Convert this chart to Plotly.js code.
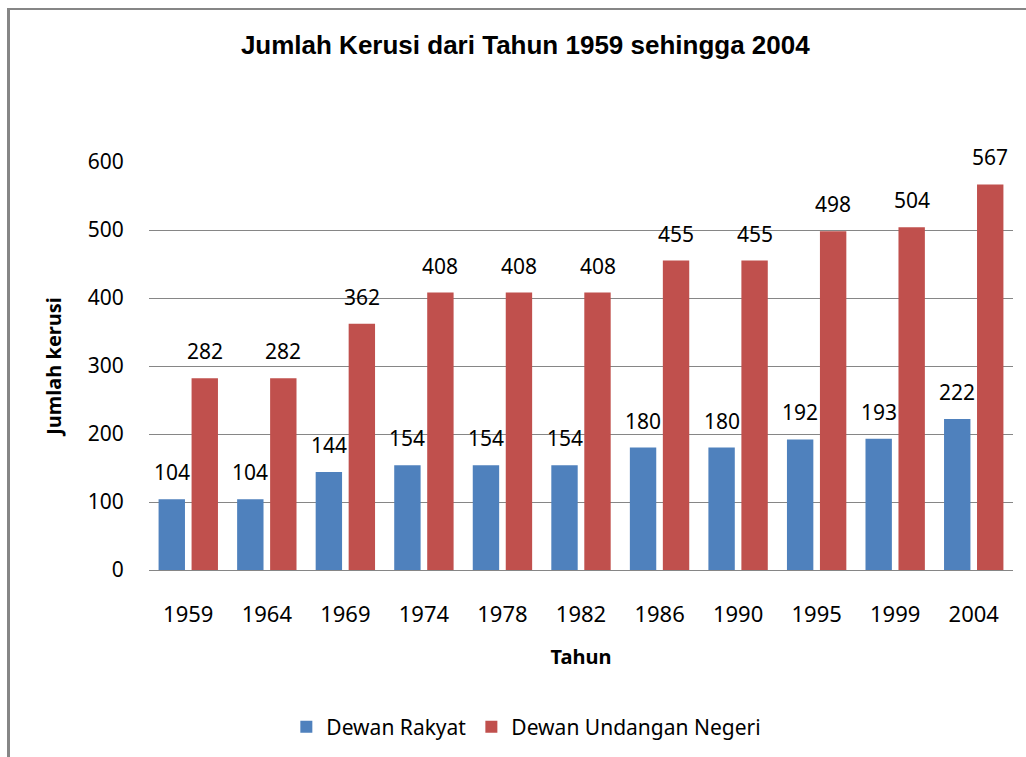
<!DOCTYPE html>
<html>
<head>
<meta charset="utf-8">
<script src="https://cdn.plot.ly/plotly-3.0.1.min.js"></script>
<style>
html,body{margin:0;padding:0;background:#fff;}
#chart{width:1026px;height:757px;}
</style>
</head>
<body>
<div id="chart"></div>
<script>
const years = ["1959","1964","1969","1974","1978","1982","1986","1990","1995","1999","2004"];
const dewanRakyat = [104,104,144,154,154,154,180,180,192,193,222];
const dewanUndanganNegeri = [282,282,362,408,408,408,455,455,498,504,567];
const seriesNames = ["Dewan Rakyat","Dewan Undangan Negeri"];
const yTicks = [0,100,200,300,400,500,600];

const blue = "#4F81BD", red = "#C0504D", gray = "#868686";
const tickFont = {family:"Noto Sans", size:21, color:"#000"};

const traces = [
  {type:"bar", name:seriesNames[0], x:years, y:dewanRakyat, marker:{color:blue}, hoverinfo:"x+y"},
  {type:"bar", name:seriesNames[1], x:years, y:dewanUndanganNegeri, marker:{color:red}, hoverinfo:"x+y"}
];

const annotations = [];
[[dewanRakyat,-16.5],[dewanUndanganNegeri,16.5]].forEach(([vals,shift])=>{
  vals.forEach((v,i)=>{
    annotations.push({x:i, y:v, xref:"x", yref:"y", text:String(v), showarrow:false,
      xshift:shift, yshift:11, yanchor:"bottom", xanchor:"center", font:tickFont});
  });
});

const layout = {
  width:1026, height:757,
  paper_bgcolor:"#fff", plot_bgcolor:"#fff",
  margin:{l:149, r:13, t:162, b:187},
  barmode:"group", bargap:0.16, bargroupgap:0.2,
  title:{text:"Jumlah Kerusi dari Tahun 1959 sehingga 2004", xref:"container", yref:"container",
    x:0.512, xanchor:"center", y:1-45/757, yanchor:"middle",
    font:{family:"Liberation Sans", size:26, color:"#000", weight:"bold"}},
  xaxis:{type:"category", categoryorder:"array", categoryarray:years, range:[-0.5, years.length-0.5],
    showline:true, linecolor:gray, linewidth:1, showgrid:false,
    ticks:"outside", ticklen:25, tickcolor:"rgba(0,0,0,0)",
    tickfont:{family:"Noto Sans", size:22, color:"#000"},
    title:{text:"Tahun", standoff:22, font:{family:"Noto Sans", size:20, color:"#000", weight:"bold"}}},
  yaxis:{range:[0,600], tickvals:yTicks, showgrid:true, gridcolor:gray, gridwidth:1,
    zeroline:true, zerolinecolor:gray, zerolinewidth:1, showline:false,
    ticks:"outside", ticklen:20, tickcolor:"rgba(0,0,0,0)", tickfont:tickFont,
    title:{text:"Jumlah kerusi", standoff:20, font:{family:"Noto Sans", size:20, color:"#000", weight:"bold"}}},
  showlegend:true,
  legend:{orientation:"h", xref:"container", yref:"container", x:0.513, xanchor:"center",
    y:1-727/757, yanchor:"middle", font:{family:"Noto Sans", size:21, color:"#000"},
    traceorder:"normal", itemsizing:"constant"},
  annotations:annotations,
  shapes:[
    {type:"line", xref:"paper", yref:"paper", x0:(8.5-149)/864, x1:(8.5-149)/864, y0:(570-757)/408, y1:(570-8)/408,
      line:{color:gray, width:3}},
    {type:"line", xref:"paper", yref:"paper", x0:(7-149)/864, x1:(1026-149)/864, y0:(570-9)/408, y1:(570-9)/408,
      line:{color:gray, width:2}}
  ]
};

Plotly.newPlot("chart", traces, layout, {displayModeBar:false, staticPlot:true});
</script>
</body>
</html>
